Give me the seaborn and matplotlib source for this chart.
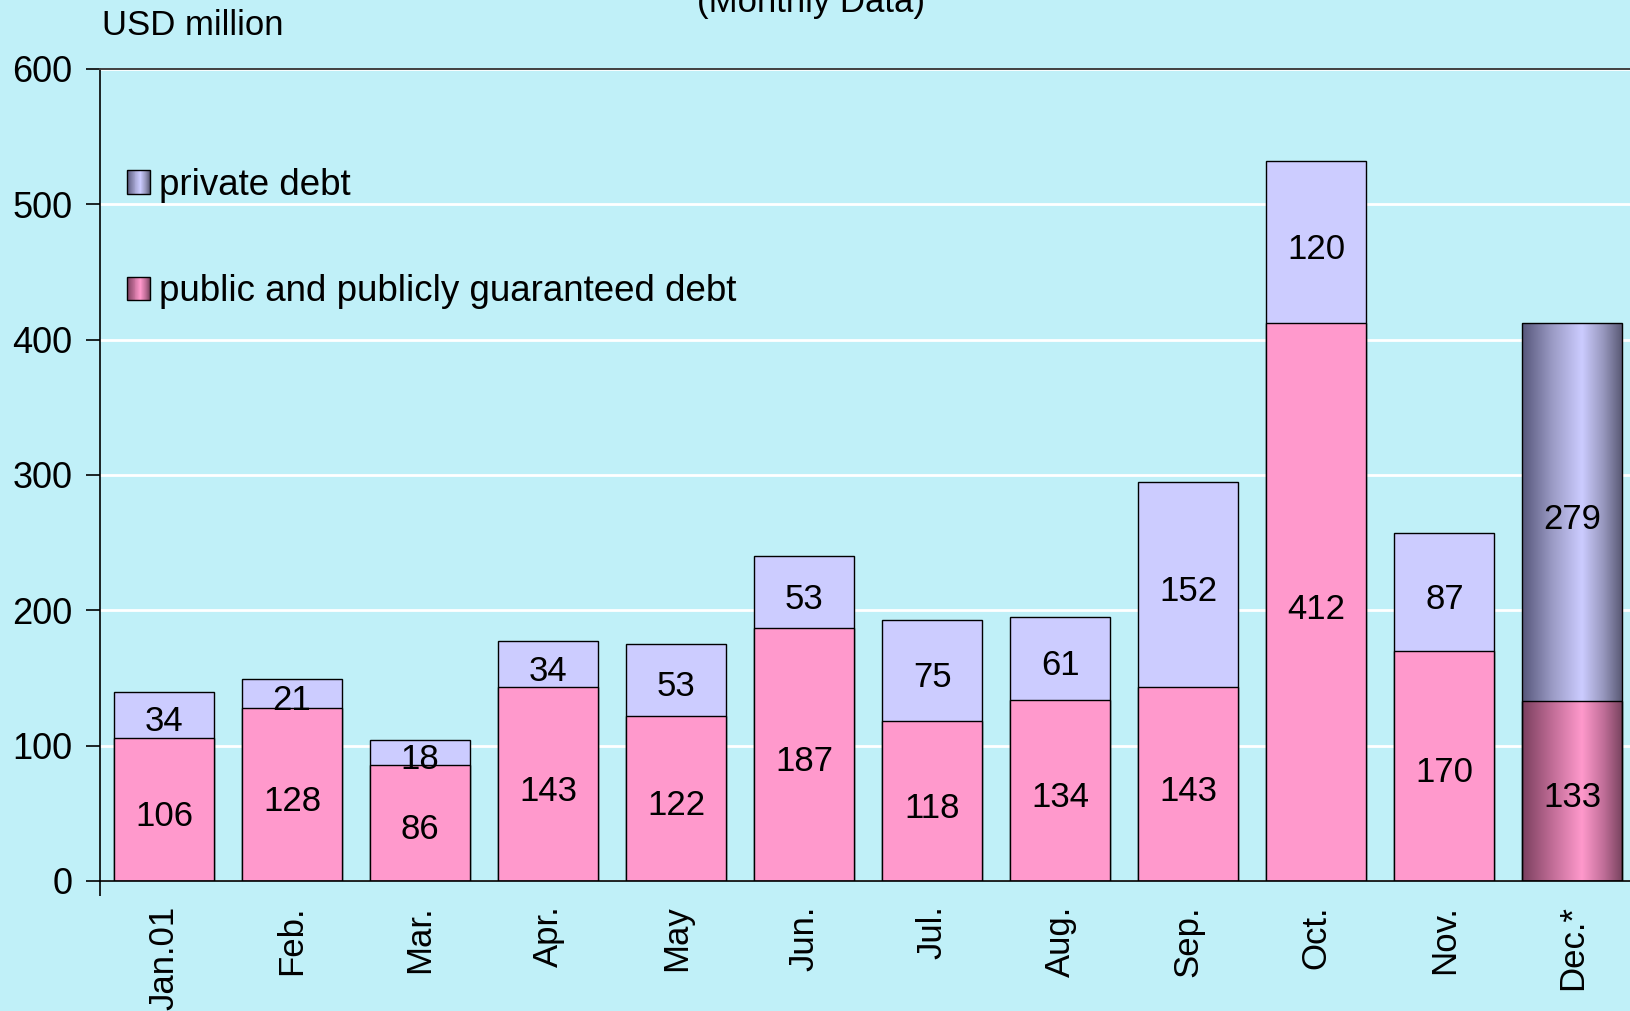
import numpy as np
import pandas as pd
import matplotlib
matplotlib.use("Agg")
import matplotlib.pyplot as plt
import seaborn as sns
from matplotlib.colors import LinearSegmentedColormap
from matplotlib.patches import Rectangle, Patch
from matplotlib.legend_handler import HandlerBase

# Monthly external debt figures (USD million)
months = ["Jan.01", "Feb.", "Mar.", "Apr.", "May", "Jun.", "Jul.", "Aug.",
          "Sep.", "Oct.", "Nov.", "Dec.*"]
public_debt = [106, 128, 86, 143, 122, 187, 118, 134, 143, 412, 170, 133]
private_debt = [34, 21, 18, 34, 53, 53, 75, 61, 152, 120, 87, 279]
y_ticks = [0, 100, 200, 300, 400, 500, 600]

BG = "#C0F0F8"
PINK = "#FF99CC"
LAV = "#CCCCFF"

sns.set_theme(style="white")
plt.rcParams["font.family"] = ["Liberation Sans", "DejaVu Sans"]
plt.rcParams["text.color"] = "black"
plt.rcParams["xtick.color"] = "black"
plt.rcParams["ytick.color"] = "black"
plt.rcParams["axes.labelcolor"] = "black"

df = pd.DataFrame({"month": months, "public": public_debt, "private": private_debt})
df["total"] = df["public"] + df["private"]

W, H = 1630, 1011
fig = plt.figure(figsize=(W / 100, H / 100), dpi=100, facecolor=BG)
ax = fig.add_axes([100 / W, 1 - 881 / H, 1 - 100 / W, (881 - 69) / H])
ax.set_facecolor(BG)

# stacked bars: full height in lavender, public part in pink on top
sns.barplot(data=df, x="month", y="total", color=LAV, width=0.78,
            edgecolor="black", linewidth=1, saturation=1, ax=ax)
sns.barplot(data=df, x="month", y="public", color=PINK, width=0.78,
            edgecolor="black", linewidth=1, saturation=1, ax=ax)

# shaded (cylinder-like) look for the latest month
lav_cmap = LinearSegmentedColormap.from_list(
    "lav", [(0, "#56567a"), (0.3, "#9a9ac4"), (0.6, "#ccccff"), (0.82, "#9696bc"), (1, "#5a5a76")])
pink_cmap = LinearSegmentedColormap.from_list(
    "pnk", [(0, "#7a3f5e"), (0.3, "#c06c96"), (0.6, "#ff99cc"), (0.82, "#c06e98"), (1, "#7a4460")])
grad = np.linspace(0, 1, 256).reshape(1, -1)
last = len(months) - 1
tot_patch = ax.containers[0][last]
pub_patch = ax.containers[1][last]
x0 = tot_patch.get_x()
x1 = x0 + tot_patch.get_width()
for patch, cmap, lo, hi in [
    (tot_patch, lav_cmap, public_debt[last], public_debt[last] + private_debt[last]),
    (pub_patch, pink_cmap, 0, public_debt[last]),
]:
    im = ax.imshow(grad, extent=(x0, x1, lo, hi), aspect="auto", cmap=cmap,
                   zorder=0.8, interpolation="bicubic")
    im.set_clip_path(patch)
    patch.set_facecolor("none")

# value labels centred in each segment
for i, (pub, pri) in enumerate(zip(public_debt, private_debt)):
    ax.annotate(str(pub), (i, pub / 2), xytext=(0, -5), textcoords="offset points",
                ha="center", va="center", fontsize=25, color="black")
    ax.annotate(str(pri), (i, pub + pri / 2), xytext=(0, -5), textcoords="offset points",
                ha="center", va="center", fontsize=25, color="black")

ax.set_xlim(-0.5, 11.45)
ax.set_ylim(0, 600)
ax.set_yticks(y_ticks)
ax.set_xlabel("")
ax.set_ylabel("")
ax.set_axisbelow(True)
ax.yaxis.grid(True, color="white", linewidth=2)
ax.xaxis.grid(False)

for side in ["left", "bottom"]:
    ax.spines[side].set_color("black")
    ax.spines[side].set_linewidth(1.2)
ax.spines["top"].set_color("#404040")
ax.spines["top"].set_linewidth(1.4)
ax.spines["right"].set_visible(False)

ax.tick_params(axis="y", direction="out", length=10, width=1.2, color="black",
               labelsize=26, pad=10, left=True, labelcolor="black")
ax.tick_params(axis="x", which="major", length=0, labelsize=25, pad=17.5,
               labelrotation=90, labelcolor="black")
ax.set_xticks([-0.5], minor=True)
ax.tick_params(axis="x", which="minor", direction="out", length=11, width=1.2,
               color="black", bottom=True)
for lab in ax.get_xticklabels():
    lab.set_va("top")
    lab.set_ha("center")

# legend with shaded swatches
class GradientSwatch(HandlerBase):
    def __init__(self, cmap):
        super().__init__()
        self.cmap = cmap

    def create_artists(self, legend, orig_handle, xdescent, ydescent,
                       width, height, fontsize, trans):
        n = 24
        w = width / n
        arts = []
        for k in range(n):
            arts.append(Rectangle((-xdescent + k * w, -ydescent), w * 1.05, height,
                                  facecolor=self.cmap((k + 0.5) / n),
                                  edgecolor="none", transform=trans))
        arts.append(Rectangle((-xdescent, -ydescent), width, height,
                              facecolor="none", edgecolor="black", lw=1,
                              transform=trans))
        return arts

h_priv = Patch(facecolor=LAV)
h_pub = Patch(facecolor=PINK)
leg = ax.legend([h_priv, h_pub], ["private debt", "public and publicly guaranteed debt"],
                handler_map={h_priv: GradientSwatch(lav_cmap), h_pub: GradientSwatch(pink_cmap)},
                loc="upper left", bbox_to_anchor=(0.0176, 0.878), bbox_transform=ax.transAxes,
                frameon=False, fontsize=26.5, borderpad=0, borderaxespad=0,
                handlelength=0.62, handleheight=0.62, handletextpad=0.25, labelspacing=1.94)
for t in leg.get_texts():
    t.set_color("black")

fig.text(102 / W, 1 - 35 / H, "USD million", fontsize=25, ha="left", va="baseline", color="black")
fig.text(811 / W, 1 - 12 / H, "(Monthly Data)", fontsize=25, ha="center", va="baseline", color="black")

fig.savefig("out.png", dpi=100, facecolor=BG)
